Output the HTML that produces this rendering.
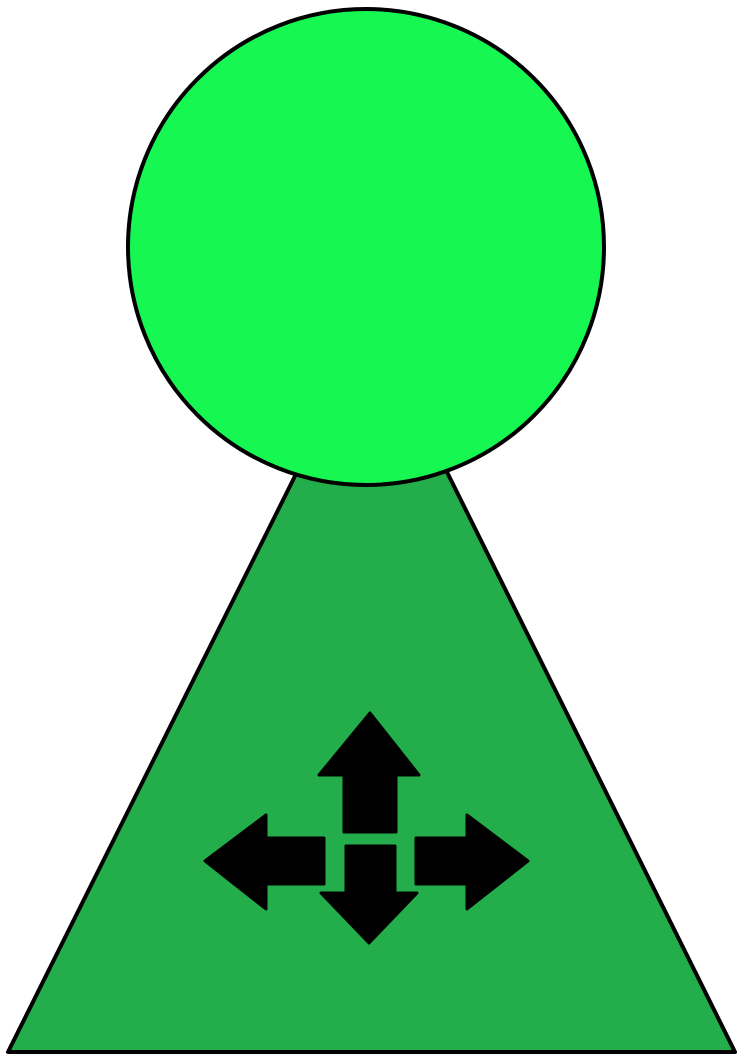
<!DOCTYPE html>
<html>
<head>
<meta charset="utf-8">
<style>
  html,body{margin:0;padding:0;background:#fff;}
  svg{display:block;}
</style>
</head>
<body>
<svg width="743" height="1063" viewBox="0 0 743 1063" xmlns="http://www.w3.org/2000/svg">
  <polygon
    points="299,468 8,1052 735,1052 443,464"
    fill="#23ae4b" stroke="#000" stroke-width="4" stroke-linejoin="round"/>
  <circle
    cx="366" cy="247" r="238" fill="#17f752" stroke="#000" stroke-width="4"/>
  <g fill="#000" stroke="#000" stroke-width="3" stroke-linejoin="round">
    <polygon
      points="370,713 419,775 396,775 396,832 344,832 344,775 319,775"/>
    <polygon
      points="346,846 395,846 395,893 417,893 369,943 321,893 346,893"/>
    <polygon
      points="205,861 266,815 266,838 324,838 324,884 266,884 266,909"/>
    <polygon
      points="416,838 467,838 467,815 528,861 467,909 467,884 416,884"/>
  </g>
</svg>
</body>
</html>
